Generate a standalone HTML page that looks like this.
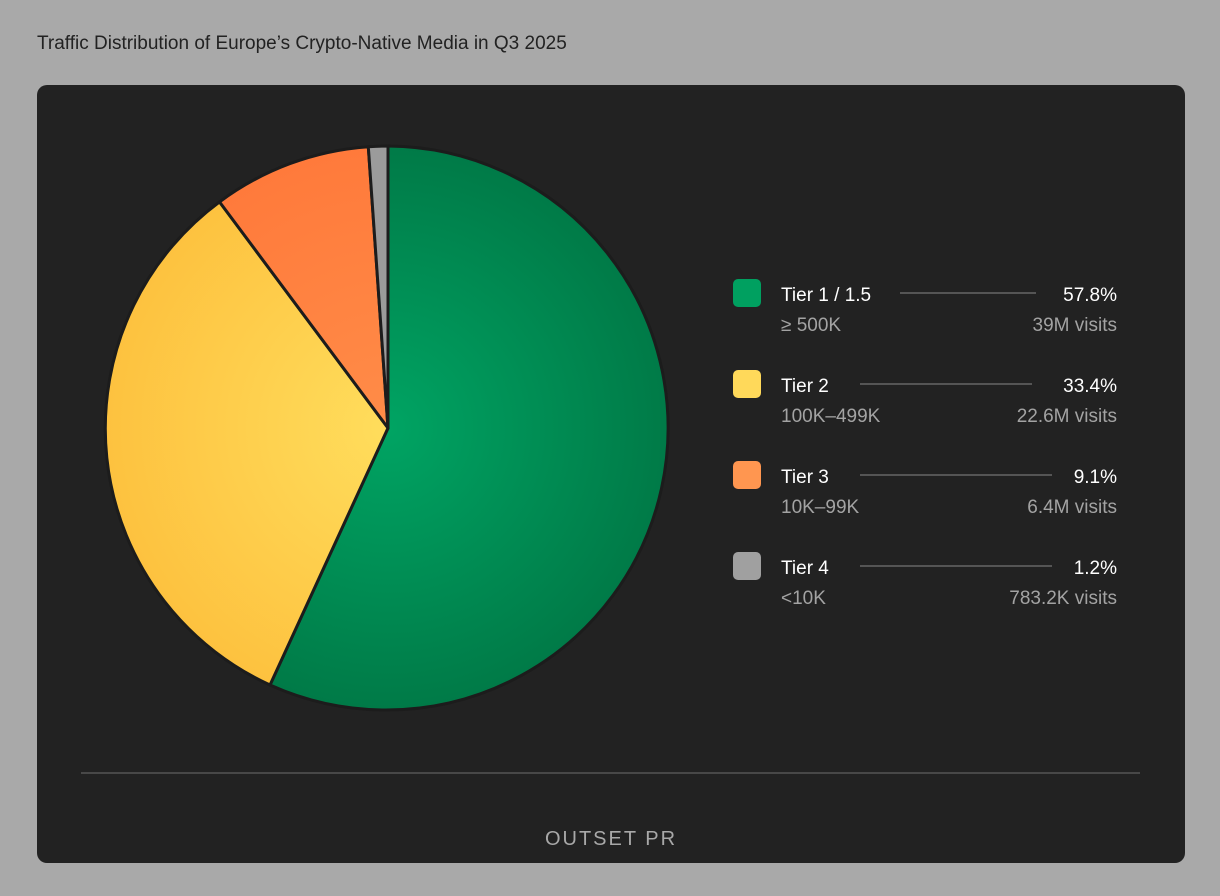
<!DOCTYPE html>
<html><head><meta charset="utf-8"><style>
body{margin:0;width:1220px;height:896px;background:#a9a9a9;overflow:hidden;font-family:"Liberation Sans",sans-serif}
</style></head><body>
<svg width="1220" height="896" xmlns="http://www.w3.org/2000/svg" style="position:absolute;left:0;top:0">
<defs>
<radialGradient id="g" cx="388" cy="428" r="282" gradientUnits="userSpaceOnUse"><stop offset="0" stop-color="#00a463"/><stop offset="1" stop-color="#007a47"/></radialGradient>
<radialGradient id="y" cx="388" cy="428" r="282" gradientUnits="userSpaceOnUse"><stop offset="0" stop-color="#ffdd5c"/><stop offset="1" stop-color="#fdc23f"/></radialGradient>
<radialGradient id="o" cx="388" cy="428" r="282" gradientUnits="userSpaceOnUse"><stop offset="0" stop-color="#ff8c48"/><stop offset="1" stop-color="#ff7a3b"/></radialGradient>
</defs>
<text x="37" y="49" font-size="19" fill="#222" font-family="Liberation Sans, sans-serif">Traffic Distribution of Europe’s Crypto-Native Media in Q3 2025</text>
<rect x="37" y="85" width="1148" height="778" rx="10" fill="#222"/>
<g stroke="#1c1c1c" stroke-width="3" stroke-linejoin="round">
<path d="M388,428 L388,146 A282,282 0 1 1 270,685 Z" fill="url(#g)"/>
<path d="M388,428 L270,685 A282,282 0 0 1 219.5,201.9 Z" fill="url(#y)"/>
<path d="M388,428 L219.5,201.9 A282,282 0 0 1 368.3,146.7 Z" fill="url(#o)"/>
<path d="M388,428 L368.3,146.7 A282,282 0 0 1 388,146 Z" fill="#9b9b9b"/>
</g>
<g font-family="Liberation Sans, sans-serif" font-size="19">
<rect x="733" y="279" width="28" height="28" rx="5" fill="#00a060"/>
<text x="781" y="301" fill="#fff">Tier 1 / 1.5</text>
<line x1="900" y1="293" x2="1036" y2="293" stroke="#666" stroke-width="1.5"/>
<text x="1117" y="301" fill="#fff" text-anchor="end">57.8%</text>
<text x="781" y="331" fill="#a3a3a3">≥ 500K</text>
<text x="1117" y="331" fill="#a3a3a3" text-anchor="end">39M visits</text>

<rect x="733" y="370" width="28" height="28" rx="5" fill="#ffd95a"/>
<text x="781" y="392" fill="#fff">Tier 2</text>
<line x1="860" y1="384" x2="1032" y2="384" stroke="#666" stroke-width="1.5"/>
<text x="1117" y="392" fill="#fff" text-anchor="end">33.4%</text>
<text x="781" y="422" fill="#a3a3a3">100K–499K</text>
<text x="1117" y="422" fill="#a3a3a3" text-anchor="end">22.6M visits</text>

<rect x="733" y="461" width="28" height="28" rx="5" fill="#ff9650"/>
<text x="781" y="483" fill="#fff">Tier 3</text>
<line x1="860" y1="475" x2="1052" y2="475" stroke="#666" stroke-width="1.5"/>
<text x="1117" y="483" fill="#fff" text-anchor="end">9.1%</text>
<text x="781" y="513" fill="#a3a3a3">10K–99K</text>
<text x="1117" y="513" fill="#a3a3a3" text-anchor="end">6.4M visits</text>

<rect x="733" y="552" width="28" height="28" rx="5" fill="#a0a0a0"/>
<text x="781" y="574" fill="#fff">Tier 4</text>
<line x1="860" y1="566" x2="1052" y2="566" stroke="#666" stroke-width="1.5"/>
<text x="1117" y="574" fill="#fff" text-anchor="end">1.2%</text>
<text x="781" y="604" fill="#a3a3a3">&lt;10K</text>
<text x="1117" y="604" fill="#a3a3a3" text-anchor="end">783.2K visits</text>
</g>
<line x1="81" y1="773" x2="1140" y2="773" stroke="#555" stroke-width="1.5"/>
<text x="611" y="845" font-size="20" fill="#a8a8a8" text-anchor="middle" letter-spacing="2" font-family="Liberation Sans, sans-serif">OUTSET PR</text>
</svg>
</body></html>
